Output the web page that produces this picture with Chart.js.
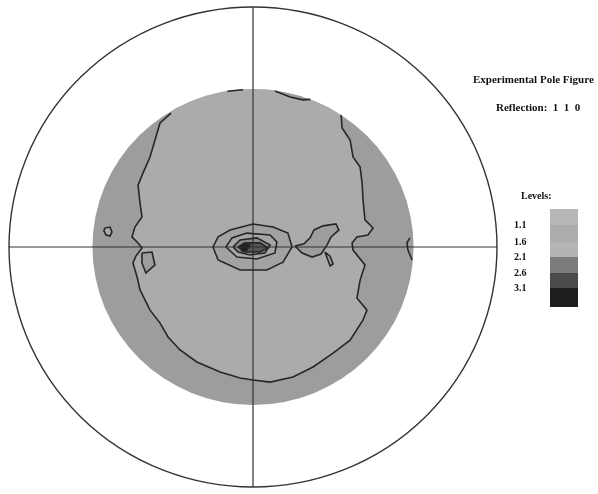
<!DOCTYPE html>
<html>
<head>
<meta charset="utf-8">
<script src="https://cdn.jsdelivr.net/npm/chart.js@4.4.0/dist/chart.umd.min.js"></script>
<style>
    html, body { margin: 0; padding: 0; background: #fff; }
    #wrap { width: 598px; height: 494px; position: relative; }
</style>
</head>
<body>
<div id="wrap"><canvas id="poleChart"></canvas></div>
<script>
// pole figure coordinates: outer circle radius = 100
const DISK_RADIUS = 65.8;

const levelValues = [1.1, 1.6, 2.1, 2.6, 3.1];
const levelColors = ['#b7b7b7', '#acacac', '#b4b4b4', '#7c7c7c', '#4a4a4a', '#1e1e1e'];

// 1.1 contour, open curve from the disk edge (upper left) round to the disk edge (upper right)
const mainContour = [
    [-33.6, 55.8], [-38.1, 51.7], [-39.8, 45.8], [-42.2, 37.5], [-45.1, 30.8], [-47.1, 25.8],
    [-46.3, 18.3], [-45.5, 12.5], [-48.4, 8.3], [-49.6, 4.2], [-47.1, 1.7], [-45.5, -0.4],
    [-48.0, -3.8], [-49.2, -6.7], [-47.5, -12.5], [-46.3, -17.9], [-42.2, -26.3], [-38.1, -31.7],
    [-34.8, -37.5], [-29.9, -42.9], [-23.0, -47.9], [-13.5, -52.1], [-5.3, -54.6], [0, -55.4],
    [7.0, -56.3], [16.4, -54.2], [24.6, -50.0], [32.8, -44.2], [39.8, -38.8], [45.1, -30.4],
    [46.7, -26.3], [42.6, -21.3], [43.9, -13.8], [45.9, -7.5], [41.0, -1.3], [40.6, 1.7],
    [42.6, 4.2], [47.1, 5.0], [49.2, 7.9], [45.9, 11.3], [45.1, 19.6], [44.7, 26.7],
    [43.9, 33.3], [41.0, 37.5], [39.8, 44.6], [36.5, 49.6], [36.1, 55.0]
];
const topDip = [[9.0, 65.0], [15.2, 62.5], [20.5, 61.3], [23.5, 61.5]];
const topEdgeBit = [[-10.5, 64.9], [-4.1, 65.5]];
const rightEdgeBit = [[64.3, 3.8], [63.1, 1.7], [63.5, -1.3], [65.2, -5.4]];
const leftIsland = [[-60.7, 7.9], [-58.6, 8.3], [-57.8, 6.3], [-58.6, 4.6], [-60.2, 5.0], [-61.1, 6.7]];
const leftPocket = [[-45.5, -2.5], [-41.4, -2.1], [-40.2, -7.5], [-43.9, -10.8], [-45.5, -6.7]];
const rightLobe = [
    [17.2, 0.4], [20.9, 1.3], [23.4, 3.8], [25.0, 7.1], [28.7, 8.8], [34.0, 9.6], [35.2, 7.1],
    [32.0, 4.2], [30.3, 0.8], [27.9, -2.9], [24.2, -4.2], [20.1, -2.5]
];
const rightDrop = [[29.5, -2.1], [30.7, -5.4], [31.6, -7.9], [32.8, -7.1], [31.6, -3.8]];

// central maximum, contours 1.1 .. 3.1
const peak11 = [[-16.4, 0], [-14.3, 4.2], [-9.4, 7.1], [0, 9.6], [8.2, 8.3], [14.3, 5.8], [16.0, 0],
    [12.3, -6.3], [5.7, -9.6], [-5.3, -9.6], [-14.3, -5.4]];
const peak16 = [[-11.1, 0], [-8.6, 3.8], [-2.5, 5.8], [7.0, 5.0], [9.8, 2.1], [9.0, -2.5], [1.6, -5.0], [-6.6, -4.2]];
const peak21 = [[-8.2, 0], [-5.3, 2.9], [1.6, 3.8], [7.0, 0.8], [4.9, -2.5], [-1.2, -3.3], [-6.1, -2.1]];
const peak26 = [[-6.1, 0], [-3.3, 1.7], [2.9, 1.7], [6.1, -0.4], [2.9, -2.1], [-3.3, -2.1]];
const peak31 = [[-5.3, 0], [-3.7, 1.3], [-1.2, 0.8], [-2.5, -1.3], [-4.5, -1.7]];

const openLines = [mainContour, topDip, topEdgeBit, rightEdgeBit];
const closedLines = [leftIsland, leftPocket, rightLobe, rightDrop, peak11, peak16, peak21, peak26, peak31];
const peakLoops = [peak11, peak16, peak21, peak26, peak31];

const LINE = '#262626';
const RING_GREY = '#9d9d9d';
const LOW_GREY = '#ababab';

function toPoints(arr, close) {
    const pts = arr.map(([x, y]) => ({ x, y }));
    if (close) pts.push({ x: arr[0][0], y: arr[0][1] });
    return pts;
}

function tracePath(ctx, sx, sy, arr) {
    arr.forEach(([a, b], i) => {
        const px = sx.getPixelForValue(a), py = sy.getPixelForValue(b);
        if (i === 0) ctx.moveTo(px, py); else ctx.lineTo(px, py);
    });
}

const datasets = [
    ...openLines.map(a => ({ data: toPoints(a, false) })),
    ...closedLines.map(a => ({ data: toPoints(a, true) }))
].map(d => ({
    ...d,
    showLine: true,
    pointRadius: 0,
    borderColor: LINE,
    borderWidth: 1.6,
    tension: 0,
    fill: false
}));

const poleFigurePlugin = {
    id: 'poleFigure',
    beforeDatasetsDraw(chart) {
        const { ctx, chartArea, scales: { x, y } } = chart;
        const cx = x.getPixelForValue(0), cy = y.getPixelForValue(0);
        const rx = x.getPixelForValue(100) - cx, ry = cy - y.getPixelForValue(100);
        const drx = x.getPixelForValue(DISK_RADIUS) - cx, dry = cy - y.getPixelForValue(DISK_RADIUS);

        ctx.save();
        // measured region
        ctx.beginPath();
        ctx.ellipse(cx, cy, drx, dry, 0, 0, Math.PI * 2);
        ctx.fillStyle = RING_GREY;
        ctx.fill();
        ctx.clip();

        // area under the 1.1 level
        ctx.beginPath();
        tracePath(ctx, x, y, mainContour);
        const last = mainContour[mainContour.length - 1];
        ctx.lineTo(x.getPixelForValue(last[0]), chartArea.top);
        const dipEnd = topDip[topDip.length - 1];
        ctx.lineTo(x.getPixelForValue(dipEnd[0]), chartArea.top);
        [...topDip].reverse().forEach(([a, b]) => ctx.lineTo(x.getPixelForValue(a), y.getPixelForValue(b)));
        ctx.lineTo(x.getPixelForValue(topDip[0][0]), chartArea.top);
        ctx.lineTo(x.getPixelForValue(mainContour[0][0]), chartArea.top);
        ctx.closePath();
        ctx.fillStyle = LOW_GREY;
        ctx.fill();

        [[leftPocket, RING_GREY], [rightLobe, RING_GREY], [rightDrop, RING_GREY], [leftIsland, LOW_GREY]]
            .forEach(([arr, col]) => {
                ctx.beginPath();
                tracePath(ctx, x, y, arr);
                ctx.closePath();
                ctx.fillStyle = col;
                ctx.fill();
            });

        const peakFills = ['#a2a2a2', '#a6a6a6', '#8a8a8a', '#555555', '#1e1e1e'];
        peakLoops.forEach((arr, i) => {
            ctx.beginPath();
            tracePath(ctx, x, y, arr);
            ctx.closePath();
            ctx.fillStyle = peakFills[i];
            ctx.fill();
        });
        ctx.restore();

        // axes of the projection
        ctx.save();
        ctx.strokeStyle = '#333';
        ctx.lineWidth = 1.2;
        ctx.beginPath();
        ctx.moveTo(cx - rx, cy); ctx.lineTo(cx + rx, cy);
        ctx.moveTo(cx, cy - ry); ctx.lineTo(cx, cy + ry);
        ctx.stroke();
        ctx.beginPath();
        ctx.ellipse(cx, cy, rx, ry, 0, 0, Math.PI * 2);
        ctx.lineWidth = 1.4;
        ctx.stroke();
        ctx.restore();
    },
    afterDraw(chart) {
        const { ctx } = chart;
        ctx.save();
        ctx.fillStyle = '#111';
        ctx.textBaseline = 'alphabetic';
        ctx.font = 'bold 11px "Liberation Serif"';
        ctx.fillText('Experimental Pole Figure', 473, 83);
        ctx.fillText('Reflection:  1  1  0', 496, 111);
        ctx.font = 'bold 10px "Liberation Serif"';
        ctx.fillText('Levels:', 521, 199);

        // level key
        const boxX = 550, boxW = 28, boxTop = 209;
        const bandH = [16, 17, 15, 16, 15, 19];
        let yy = boxTop;
        levelColors.forEach((c, i) => {
            ctx.fillStyle = c;
            ctx.fillRect(boxX, yy, boxW, bandH[i]);
            yy += bandH[i];
        });
        ctx.fillStyle = '#111';
        ctx.textBaseline = 'middle';
        yy = boxTop;
        levelValues.forEach((v, i) => {
            yy += bandH[i];
            ctx.fillText(v.toFixed(1), 514, yy);
        });
        ctx.restore();
    }
};

new Chart(document.getElementById('poleChart'), {
    type: 'scatter',
    data: { datasets },
    options: {
        responsive: true,
        maintainAspectRatio: false,
        animation: false,
        layout: { padding: { left: 9, right: 101, top: 7, bottom: 7 } },
        plugins: { legend: { display: false }, tooltip: { enabled: false } },
        scales: {
            x: { type: 'linear', min: -100, max: 100, display: false },
            y: { type: 'linear', min: -100, max: 100, display: false }
        }
    },
    plugins: [poleFigurePlugin]
});
</script>
</body>
</html>
